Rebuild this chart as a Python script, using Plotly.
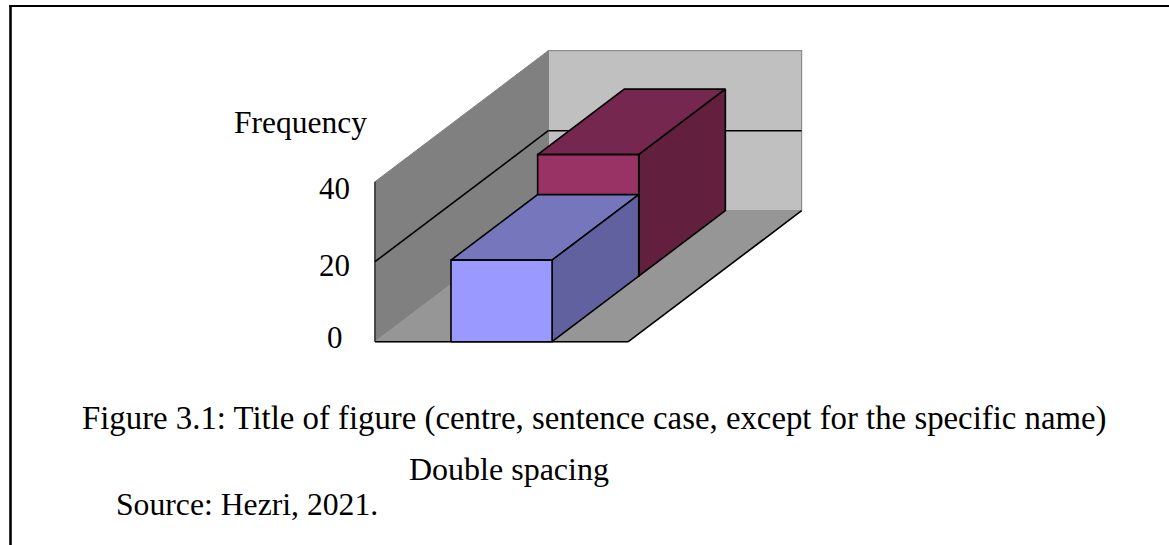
import plotly.graph_objects as go

# --- data -------------------------------------------------------------
categories = ["Rear series", "Front series"]
series_values = [30.4, 20.4]
depth_start = [0.5, 0.0]
depth_end = [1.0, 0.5]
bar_left = [0.300, 0.300]
bar_right = [0.699, 0.699]
tick_values = [0, 20, 40]
tick_labels = ["0", "20", "40"]
tick_label_y = [337.5, 265.5, 188]

front_colors = ["#993366", "#9999ff"]
top_colors = ["#76274f", "#7676bd"]
side_colors = ["#621f3e", "#61619f"]

W, H = 1169, 545
X0, Y0 = 375.0, 341.7      # pixel position of the origin
UX, UY = 253.3, 4.0        # pixels per floor width, pixels per value unit
DX, DY = 173.3 / UX, 131.0 / UY   # oblique depth vector in data units
WALL = tick_values[-1]
FONT = "Liberation Serif"


def proj(x, d, v):
    return x + d * DX, v + d * DY


def poly(corners, fill, line="black", width=1.6):
    xs, ys = zip(*[proj(*c) for c in corners])
    return go.Scatter(x=list(xs) + [xs[0]], y=list(ys) + [ys[0]], mode="lines", fill="toself",
                      fillcolor=fill, line=dict(color=line, width=width),
                      hoverinfo="skip", showlegend=False)


def seg(a, b, color="black", width=1.6):
    pa, pb = proj(*a), proj(*b)
    return go.Scatter(x=[pa[0], pb[0]], y=[pa[1], pb[1]], mode="lines",
                      line=dict(color=color, width=width), hoverinfo="skip", showlegend=False)


fig = go.Figure()
# walls and floor
fig.add_trace(poly([(0, 1, 0), (1, 1, 0), (1, 1, WALL), (0, 1, WALL)], "#c0c0c0", "#8c8c8c", 1.2))
fig.add_trace(poly([(0, 0, 0), (0, 1, 0), (0, 1, WALL), (0, 0, WALL)], "#808080", "#808080", 1))
fig.add_trace(poly([(0, 0, 0), (1, 0, 0), (1, 1, 0), (0, 1, 0)], "#969696", "#969696", 1))
fig.add_trace(seg((0, 0, 0), (0, 0, WALL), "#333333"))
fig.add_trace(seg((0, 0, 0), (1, 0, 0)))
fig.add_trace(seg((1, 0, 0), (1, 1, 0)))
# gridlines from the tick values
for t in tick_values[1:-1]:
    fig.add_trace(seg((0, 0, t), (0, 1, t)))
    fig.add_trace(seg((0, 1, t), (1, 1, t)))
# bars, rear first
for i, name in enumerate(categories):
    a, b, d0, d1, v = bar_left[i], bar_right[i], depth_start[i], depth_end[i], series_values[i]
    fig.add_trace(poly([(a, d0, v), (b, d0, v), (b, d1, v), (a, d1, v)], top_colors[i]))
    fig.add_trace(poly([(b, d0, 0), (b, d1, 0), (b, d1, v), (b, d0, v)], side_colors[i]))
    fig.add_trace(poly([(a, d0, 0), (b, d0, 0), (b, d0, v), (a, d0, v)], front_colors[i]))


def text(s, x, y, anchor="left", size=32):
    fig.add_annotation(text=s, x=x / W, y=1 - y / H, xref="paper", yref="paper", showarrow=False,
                       xanchor=anchor, yanchor="middle", borderpad=0, borderwidth=0,
                       font=dict(family=FONT, size=size, color="black"))


for lab, y in zip(tick_labels, tick_label_y):
    text(lab, 334.5, y, "center", 31)
text("Frequency", 234, 122.5, size=31.5)
text("Figure 3.1: Title of figure (centre, sentence case, except for the specific name)", 82, 418.5, size=32.8)
text("Double spacing", 409, 469, size=32)
text("Source: Hezri, 2021.", 115.5, 504, size=31.7)

# page frame: top and left rules only
fig.add_shape(type="line", xref="paper", yref="paper", x0=9.5 / W, x1=1, y0=1 - 6 / H, y1=1 - 6 / H,
              line=dict(color="black", width=2.2))
fig.add_shape(type="line", xref="paper", yref="paper", x0=10.5 / W, x1=10.5 / W, y0=0, y1=1 - 5 / H,
              line=dict(color="black", width=2.6))

fig.update_layout(
    width=W, height=H, margin=dict(l=0, r=0, t=0, b=0), paper_bgcolor="white", plot_bgcolor="white",
    showlegend=False,
    xaxis=dict(range=[-X0 / UX, (W - X0) / UX], visible=False, fixedrange=True),
    yaxis=dict(range=[(Y0 - H) / UY, Y0 / UY], visible=False, fixedrange=True),
)
fig.write_html("out.html", config={"displayModeBar": False},
               post_script="document.body.style.margin='0';")
